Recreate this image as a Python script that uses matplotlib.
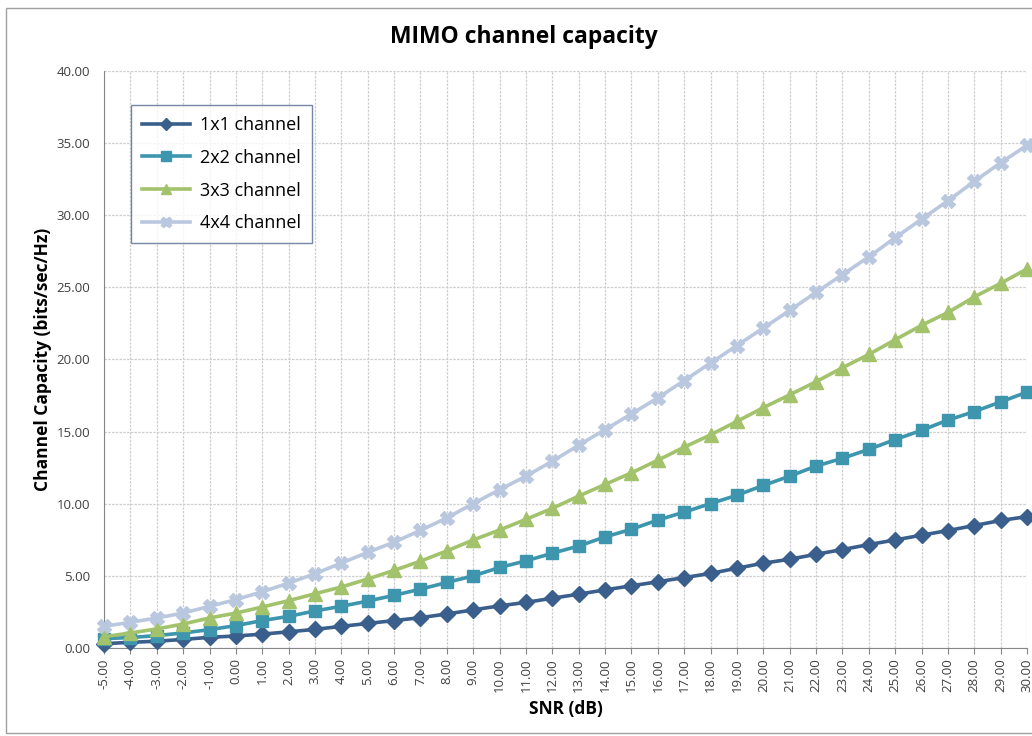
import matplotlib.pyplot as plt
from matplotlib.patches import Rectangle
from matplotlib.ticker import FormatStrFormatter, MultipleLocator

plt.rcParams['font.family'] = ['Open Sans', 'DejaVu Sans']

snr_db = list(range(-5, 31))

cap_1x1 = [0.30, 0.39, 0.47, 0.59, 0.74, 0.83, 0.96, 1.12, 1.29, 1.50, 1.70, 1.90,
           2.10, 2.36, 2.64, 2.92, 3.16, 3.45, 3.73, 4.03, 4.31, 4.59, 4.88, 5.17,
           5.53, 5.88, 6.15, 6.50, 6.82, 7.17, 7.49, 7.82, 8.14, 8.49, 8.84, 9.11]
cap_2x2 = [0.65, 0.72, 0.86, 1.04, 1.27, 1.55, 1.90, 2.19, 2.57, 2.89, 3.25, 3.65,
           4.08, 4.54, 5.00, 5.58, 6.04, 6.57, 7.07, 7.70, 8.23, 8.87, 9.42, 10.01,
           10.59, 11.27, 11.91, 12.61, 13.15, 13.77, 14.45, 15.09, 15.80, 16.39, 17.06, 17.74]
cap_3x3 = [0.78, 1.04, 1.32, 1.66, 2.08, 2.42, 2.84, 3.28, 3.76, 4.23, 4.78, 5.38,
           6.02, 6.73, 7.49, 8.18, 8.92, 9.68, 10.53, 11.34, 12.14, 13.02, 13.92, 14.78,
           15.71, 16.66, 17.55, 18.46, 19.43, 20.35, 21.37, 22.37, 23.26, 24.34, 25.28, 26.28]
cap_4x4 = [1.50, 1.78, 2.08, 2.42, 2.89, 3.35, 3.90, 4.50, 5.15, 5.89, 6.63, 7.34,
           8.15, 9.02, 10.01, 10.98, 11.91, 12.95, 14.06, 15.14, 16.23, 17.34, 18.54, 19.76,
           20.97, 22.18, 23.40, 24.66, 25.88, 27.12, 28.44, 29.73, 31.00, 32.35, 33.64, 34.85]

series = [
    ('1x1 channel', cap_1x1, '#3a5f8c', 'D', 8),
    ('2x2 channel', cap_2x2, '#3d96ae', 's', 9),
    ('3x3 channel', cap_3x3, '#a2c26b', '^', 10),
    ('4x4 channel', cap_4x4, '#bac8df', 'X', 10),
]

fig = plt.figure(figsize=(10.32, 7.36), dpi=100)
ax = fig.add_axes([0.1008, 0.1196, 0.8944, 0.7839])

for name, vals, col, mk, ms in series:
    ax.plot(snr_db, vals, color=col, lw=2.6, marker=mk, ms=ms,
            mec=col, mfc=col, label=name, clip_on=False, zorder=3)

ax.set_xlim(-5, 30)
ax.set_ylim(0, 40)
ax.xaxis.set_major_locator(MultipleLocator(1))
ax.yaxis.set_major_locator(MultipleLocator(5))
ax.xaxis.set_major_formatter(FormatStrFormatter('%.2f'))
ax.yaxis.set_major_formatter(FormatStrFormatter('%.2f'))
ax.tick_params(axis='x', labelrotation=90, labelsize=9.5, colors='#404040',
               length=4, color='#868686')
ax.tick_params(axis='y', labelsize=9.5, colors='#404040', length=0, pad=10)

ax.grid(True, color='#cfcfcf', lw=0.9, ls=(0, (2, 1)))
ax.set_axisbelow(True)
for s in ('top', 'right'):
    ax.spines[s].set_visible(False)
for s in ('left', 'bottom'):
    ax.spines[s].set_color('#868686')

ax.set_xlabel('SNR (dB)', fontsize=12.5, fontweight='bold', labelpad=6)
ax.set_ylabel('Channel Capacity (bits/sec/Hz)', fontsize=12.5, fontweight='bold', labelpad=3)
fig.text(0.508, 0.95, 'MIMO channel capacity', ha='center', va='center',
         fontsize=16.5, fontweight='bold')

leg = ax.legend(loc='upper left', bbox_to_anchor=(0.029, 0.941), borderaxespad=0,
                fontsize=13, frameon=True, fancybox=False, edgecolor='#4f6b8d',
                handlelength=2.7, labelspacing=0.82, borderpad=0.6, markerscale=0.75,
                handletextpad=0.55)
leg.get_frame().set_linewidth(1.0)

# outer chart-area border
fig.patches.append(Rectangle((0.006, 0.004), 1.0, 0.985, transform=fig.transFigure,
                             fill=False, edgecolor='#a0a0a0', lw=1))

fig.savefig('out.png', dpi=100)
